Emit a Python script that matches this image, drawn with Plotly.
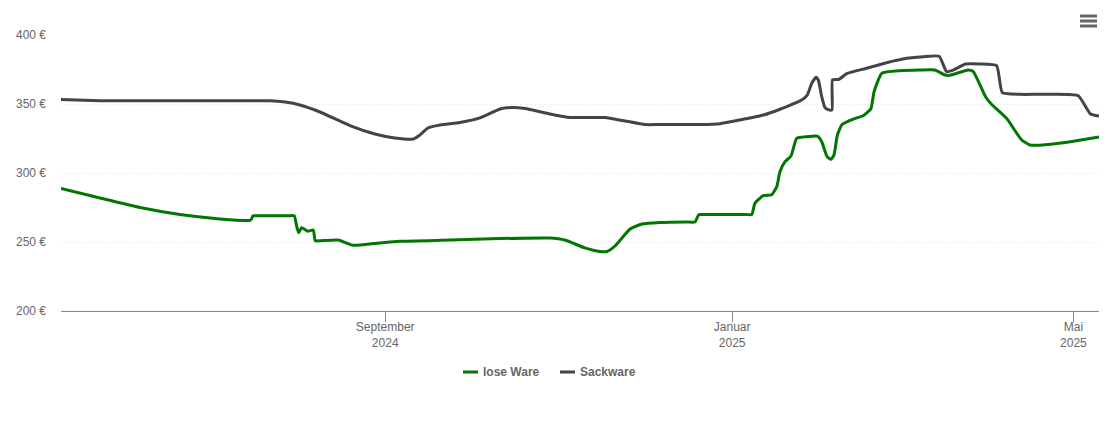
import datetime as dt
import plotly.graph_objects as go

START = dt.datetime(2024, 5, 10)
END = dt.datetime(2025, 5, 10)

lose_days = [0, 13.7, 27.8, 41.8, 55.9, 66.5, 67, 67.5, 69, 80, 82, 82.9, 83.6, 84.6, 86.8, 88.7, 89.4, 91, 97.5, 102.8, 111, 119.2,
             136.8, 154.4, 171.9, 177.2, 184.2, 189.5, 192, 194.8, 200.1, 204.3, 210.6, 220, 222.9, 224.3, 226, 241, 242.9, 244, 246.9,
             249.9, 251.7, 252.8, 254.6, 256.7, 258.7, 262.2, 266.1, 267.5, 269.4, 270.7, 271.8, 273, 274.7, 278.6,
             282.1, 284.8, 285.9, 288.6, 295, 302, 307.3, 310.8, 312.6, 319, 320.8, 325.1, 327.2, 332.5, 337.8, 340.7,
             342.5, 348.9, 356, 365]
lose_eur = [288.8, 281.9, 275, 269.9, 266.7, 265.7, 266.7, 269, 269, 269, 269, 261.1, 256.7, 260.4, 257.8, 258.7, 250.9, 250.9, 251.4,
            247.6, 249.1, 250.5, 251.4, 252.5, 252.9, 251.4, 245.7, 243.1, 243.1, 247.1, 259.4, 263, 264.1, 264.5, 264.5, 269.9,
            269.9, 269.9, 269.9, 278, 283.6, 284.3, 290.1, 300.9, 308.2, 312.3, 325.1, 326.3, 326.6, 322.7, 311.8, 309.9, 313, 327.5,
            335.3, 339.1, 341.5, 346.6, 358.9, 372.2, 374.1, 374.6, 374.6, 371, 370.8, 374.6, 373.4, 355.3, 349.8, 339.6,
            323.9, 320.3, 320.1, 321, 323, 326.1]

sack_days = [0, 13.7, 20, 65, 73.5, 78.8, 84, 91.1, 101.6, 110.4, 117.4, 123.8, 126.2, 129, 133.3, 140.3, 147.3, 154.4, 158.6,
             163.2, 171.9, 179, 183, 188, 191.3, 198.3, 205.3, 210, 220, 224.7, 231.7, 238.7, 247, 252.8, 260.4, 262.4, 264, 265.5, 266.3,
             267.5, 268.6, 269.8, 271.1, 271.3, 273.6, 276.3, 283.3, 290.3, 297.4, 303.2, 308.8, 311.4, 313.7, 318.1,
             323.1, 329, 331, 337.2, 343, 348.9, 357.7, 362, 365]
sack_eur = [353.3, 352.4, 352.4, 352.4, 352.4, 351.4, 349.3, 344.2, 334.4, 328.3, 325.4, 324.6, 327.5, 332.6, 334.8, 336.6, 339.9,
            346.4, 347.5, 346.7, 342.8, 340.2, 340.2, 340.2, 340.2, 337.7, 335.1, 335.1, 335.1, 335.1, 335.7, 338.4, 342, 346.2, 352.9, 356.5, 365,
            369.3, 367.4, 355.3, 347.6, 345.9, 345.7, 367.5, 367.9, 372, 375.9, 379.9, 383.1, 384.3, 384.6, 373.4, 374.6,
            379, 379, 377.8, 358.2, 357, 357, 357, 356, 342.8, 341.3]

x_ticks = ["2024-09-01", "2025-01-01", "2025-05-01"]
x_labels = ["September<br>2024", "Januar<br>2025", "Mai<br>2025"]
y_ticks = [200, 250, 300, 350, 400]
y_labels = ["200 €", "250 €", "300 €", "350 €", "400 €"]
GREEN = "#007700"
DARK = "#444444"


def to_dates(days):
    return [START + dt.timedelta(days=d) for d in days]


# page coordinates -> paper coordinates of the plot area (page has an 8 px body margin)
def px(x):
    return (x - 61) / 1038


def py(y):
    return (311 - y) / 276


FONT = "Liberation Sans, Arial, sans-serif"
fig = go.Figure()
fig.add_trace(go.Scatter(x=to_dates(lose_days), y=lose_eur, name="lose Ware", mode="lines",
                         line=dict(color=GREEN, width=3, shape="spline", smoothing=0.45)))
fig.add_trace(go.Scatter(x=to_dates(sack_days), y=sack_eur, name="Sackware", mode="lines",
                         line=dict(color=DARK, width=3, shape="spline", smoothing=0.45)))

shapes = [dict(type="line", xref="paper", yref="paper", x0=px(1080), x1=px(1097), y0=py(v), y1=py(v),
               line=dict(color="#666666", width=3)) for v in (16, 21, 26)]
shapes += [dict(type="line", xref="paper", yref="paper", x0=px(a), x1=px(b), y0=py(372), y1=py(372),
                line=dict(color=c, width=3)) for a, b, c in ((463, 478, GREEN), (560, 575, DARK))]
notes = [dict(text=t, xref="paper", yref="paper", x=px(a), y=py(372), xanchor="left", yanchor="middle",
              showarrow=False, xshift=-1,
              font=dict(family=FONT, size=12, color="#666666", weight="bold"))
         for t, a in (("lose Ware", 482), ("Sackware", 579))]

fig.update_layout(
    width=1102, height=414, autosize=False,
    margin=dict(l=53, r=11, t=27, b=111, autoexpand=False),
    paper_bgcolor="white", plot_bgcolor="white",
    font=dict(family=FONT, size=12, color="#666666"),
    shapes=shapes, annotations=notes,
    showlegend=False,
    xaxis=dict(type="date", range=[START, END], tickmode="array", tickvals=x_ticks, ticktext=x_labels,
               automargin=False,
               showgrid=False, showline=True, linecolor="#888888", linewidth=1, ticks="outside", ticklen=10,
               tickcolor="#888888", tickwidth=1, tickfont=dict(size=12, color="#666666"), zeroline=False,
               ticklabelstandoff=-5),
    yaxis=dict(range=[200, 400], tickmode="array", tickvals=y_ticks, ticktext=y_labels, showgrid=True,
               automargin=False,
               gridcolor="#e6e6e6", griddash="1px,2px", gridwidth=1, zeroline=False, showline=False, ticks="",
               ticklabelstandoff=14, tickfont=dict(size=12, color="#666666")),
)
fig.write_html("out.html", config={"displayModeBar": False})
